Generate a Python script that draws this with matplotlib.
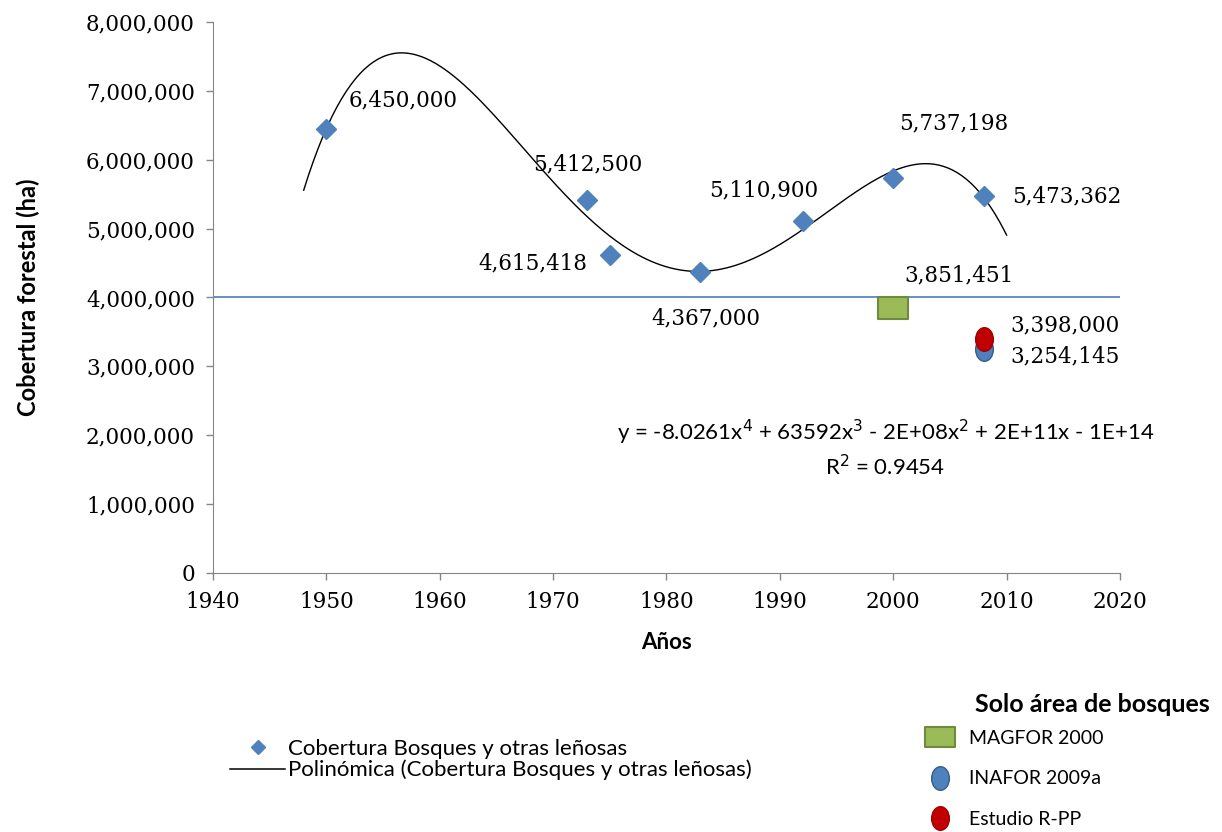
"""
Cobertura forestal de Nicaragua 1950-2008
"""

import matplotlib.pyplot as plt
import numpy as np
from matplotlib.path import Path
from matplotlib.transforms import Affine2D
from matplotlib.lines import Line2D
from matplotlib.ticker import FuncFormatter

# datos
anios = [1950, 1973, 1975, 1983, 1992, 2000, 2008]
cobertura = [6450000, 5412500, 4615418, 4367000, 5110900, 5737198, 5473362]

magfor_anio, magfor_val = 2000, 3851451
inafor_anio, inafor_val = 2008, 3254145
rpp_anio, rpp_val = 2008, 3398000

referencia = 4000000

num_font = 'DejaVu Serif'
txt_font = 'Lato'

fig = plt.figure(figsize=(12.22, 8.32), dpi=100)
ax = fig.add_axes([0.1743, 0.3113, 0.9165 - 0.1743, 0.9736 - 0.3113])

# tendencia polinómica de grado 4 (como en Excel)
x = np.array(anios, dtype=float)
coef = np.polyfit(x - 1980, cobertura, 4)
xs = np.linspace(1948, 2010, 300)
ax.plot(xs, np.polyval(coef, xs - 1980), color='black', lw=1.0, zorder=2)

ax.axhline(referencia, color='#4a7ebb', lw=1.2, zorder=1)

ax.plot(anios, cobertura, 'D', color='#4F81BD', ms=10, mec='#4F81BD', zorder=3)

elipse = Path.unit_circle().transformed(Affine2D().scale(0.75, 1.0))
rect = Path([(-0.7, -0.5), (0.7, -0.5), (0.7, 0.5), (-0.7, 0.5), (-0.7, -0.5)],
            [Path.MOVETO, Path.LINETO, Path.LINETO, Path.LINETO, Path.CLOSEPOLY])
ax.plot(magfor_anio, magfor_val, marker=rect, color='#9BBB59', mec='#71893F', mew=1.5,
        ms=22, ls='none', zorder=3)
ax.plot(inafor_anio, inafor_val, marker=elipse, color='#4F81BD', mec='#385D8A', ms=17, ls='none', zorder=3)
ax.plot(rpp_anio, rpp_val, marker=elipse, color='#C00000', mec='#A00000', ms=17, ls='none', zorder=4)

# etiquetas de datos (desplazamiento en píxeles)
etiquetas = [
    (1950, 6450000, 22, 28, 'left'),
    (1973, 5412500, 1, 36, 'center'),
    (1975, 4615418, -22, -8, 'right'),
    (1983, 4367000, 5, -46, 'center'),
    (1992, 5110900, -93, 31, 'left'),
    (2000, 5737198, 6, 54, 'left'),
    (2008, 5473362, 28, 0, 'left'),
    (2000, 3851451, 11, 32, 'left'),
    (2008, 3398000, 26, 14, 'left'),
    (2008, 3254145, 26, -8, 'left'),
]
for xa, ya, dx, dy, ha in etiquetas:
    ax.annotate(f'{ya:,}', (xa, ya), xytext=(dx, dy), textcoords='offset pixels',
                ha=ha, va='center', fontsize=15.5, family=num_font)

ax.text(1999.3, 2040000, 'y = -8.0261x$^4$ + 63592x$^3$ - 2E+08x$^2$ + 2E+11x - 1E+14',
        ha='center', va='center', fontsize=16, family=txt_font)
ax.text(1999.3, 1540000, 'R$^2$ = 0.9454', ha='center', va='center', fontsize=16, family=txt_font)

ax.set_xlim(1940, 2020)
ax.set_ylim(0, 8000000)
ax.set_xticks(range(1940, 2021, 10))
ax.set_yticks(range(0, 8000001, 1000000))
ax.yaxis.set_major_formatter(FuncFormatter(lambda v, p: f'{int(v):,}'))
for lab in ax.get_xticklabels() + ax.get_yticklabels():
    lab.set_family(num_font)
    lab.set_fontsize(15.5)
ax.tick_params(direction='out', length=5, color='#868686', width=1, pad=8)
for s in ['top', 'right']:
    ax.spines[s].set_visible(False)
for s in ['left', 'bottom']:
    ax.spines[s].set_color('#868686')

ax.set_ylabel('Cobertura forestal (ha)', fontsize=17, fontweight='bold', family=txt_font, labelpad=33)
ax.set_xlabel('Años', fontsize=16, fontweight='bold', family=txt_font, labelpad=14)

# leyenda de la tendencia
h1 = [Line2D([], [], marker='D', color='#4F81BD', ls='none', ms=7),
      Line2D([], [], color='black', lw=1.1)]
fig.legend(h1, ['Cobertura Bosques y otras leñosas',
                'Polinómica (Cobertura Bosques y otras leñosas)'],
           loc='center left', bbox_to_anchor=(0.188, 0.087), frameon=False,
           prop={'family': txt_font, 'size': 16}, handlelength=2.5,
           handletextpad=0.1, labelspacing=0.05, borderaxespad=0, borderpad=0)

# leyenda solo bosques
fig.text(975 / 1222, 1 - 705 / 832, 'Solo área de bosques', ha='left', va='center',
         fontsize=18, fontweight='bold', family=txt_font)
h2 = [Line2D([], [], marker=rect, color='#9BBB59', mec='#71893F', mew=1.5, ls='none', ms=21),
      Line2D([], [], marker=elipse, color='#4F81BD', mec='#385D8A', ls='none', ms=17),
      Line2D([], [], marker=elipse, color='#C00000', mec='#A00000', ls='none', ms=17)]
fig.legend(h2, ['MAGFOR 2000', 'INAFOR 2009a', 'Estudio R-PP'],
           loc='upper left', bbox_to_anchor=(925 / 1222, 1 - 730 / 832), frameon=False,
           prop={'family': txt_font, 'size': 14}, labelspacing=1.2,
           handlelength=1.5, handletextpad=0.75, borderaxespad=0, borderpad=0)

fig.savefig('out.png', dpi=100)
